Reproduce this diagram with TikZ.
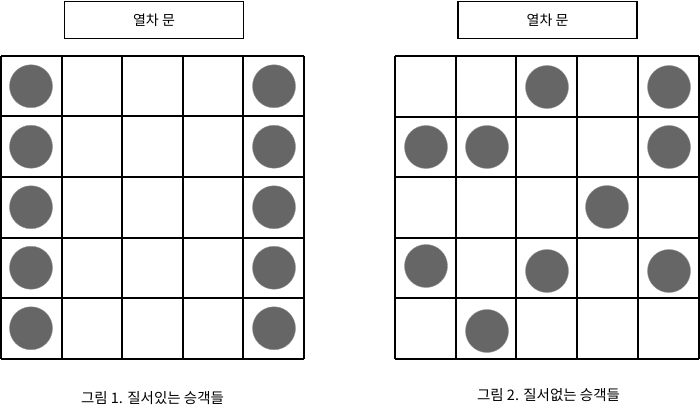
\documentclass[tikz,border=0pt]{standalone}
\usepackage{fontspec}
\setmainfont{Noto Sans CJK KR}
\definecolor{seat}{HTML}{666666}
\tikzset{
  gridline/.style={line width=2pt, black},
  doorbox/.style={draw, line width=1.6pt, minimum width=179pt, minimum height=37pt, inner sep=0pt, font=\fontsize{14}{16}\selectfont},
  passenger/.style={circle, fill=seat, draw=seat!70, line width=0.4pt, minimum size=43pt, inner sep=0pt},
  caption/.style={font=\fontsize{14.5}{16}\selectfont, inner sep=0pt}
}
\begin{document}
\begin{tikzpicture}[x=1pt,y=-1pt]
\useasboundingbox (0,0) rectangle (700,414);
% left figure
\node[doorbox] (doorL) at (154,20) {열차 문};
\foreach \i in {0,...,5}{
  \draw[gridline] ({1+60.6*\i},56) -- ({1+60.6*\i},358.5);
  \draw[gridline] (1,{56+60.5*\i}) -- (304,{56+60.5*\i});
}
\foreach \r in {0,...,4}{
  \node[passenger] (L\r a) at (31,{86.25+60.5*\r}) {};
  \node[passenger] (L\r b) at (274,{86.25+60.5*\r}) {};
}
\node[caption] (capL) at (152.5,398) {그림 1. 질서있는 승객들};
% right figure
\node[doorbox] (doorR) at (547.5,20) {열차 문};
\foreach \i in {0,...,5}{
  \draw[gridline] ({395+60.7*\i},56) -- ({395+60.7*\i},359);
  \draw[gridline] (395,{56+60.6*\i}) -- (698.5,{56+60.6*\i});
}
\node[passenger] (R1) at (547,87) {};
\node[passenger] (R2) at (669,87) {};
\node[passenger] (R3) at (426,147) {};
\node[passenger] (R4) at (487,147) {};
\node[passenger] (R5) at (669,147) {};
\node[passenger] (R6) at (607,207) {};
\node[passenger] (R7) at (426,266) {};
\node[passenger] (R8) at (547,271) {};
\node[passenger] (R9) at (669,271) {};
\node[passenger] (R10) at (487,331) {};
\node[caption] (capR) at (548.5,395) {그림 2. 질서없는 승객들};
\end{tikzpicture}
\end{document}
